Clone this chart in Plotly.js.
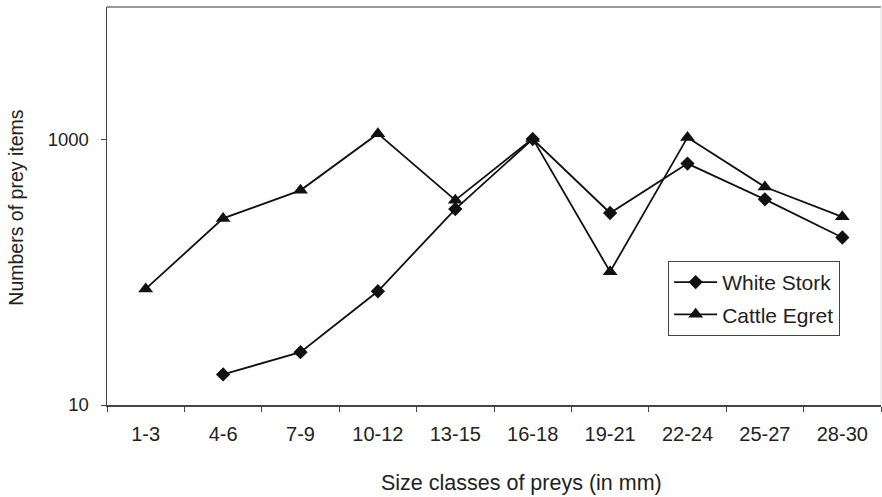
<!DOCTYPE html>
<html>
<head>
<meta charset="utf-8">
<script src="https://cdn.plot.ly/plotly-3.0.1.min.js"></script>
<style>html,body{margin:0;padding:0;background:#fff;}#chart{width:882px;height:497px;}</style>
</head>
<body>
<div id="chart"></div>
<script>
var categories = ["1-3","4-6","7-9","10-12","13-15","16-18","19-21","22-24","25-27","28-30"];
var whiteStork = [null, 17, 25, 72, 300, 1010, 280, 660, 355, 183];
var cattleEgret = [75, 255, 415, 1110, 350, 1020, 101, 1040, 440, 262];
var yTickVals = [10, 1000];
var yTickText = ["10", "1000"];
var seriesNames = ["White Stork", "Cattle Egret"];

var font = "Liberation Sans, Arial, sans-serif";
var traces = [
  {x: categories, y: whiteStork, name: seriesNames[0], type: "scatter", mode: "lines+markers",
   legendgroup: "a", connectgaps: false,
   line: {color: "#111", width: 1.8}, marker: {symbol: "diamond", size: 11, color: "#111"}},
  {x: categories, y: cattleEgret, name: seriesNames[1], type: "scatter", mode: "lines+markers",
   legendgroup: "b",
   line: {color: "#111", width: 1.8}, marker: {symbol: "triangle-up", size: 13, color: "#111"}}
];
var layout = {
  width: 882, height: 497,
  margin: {l: 107, r: 1, t: 7, b: 92},
  paper_bgcolor: "#fff", plot_bgcolor: "#fff",
  font: {family: font, size: 18, color: "#222"},
  showlegend: true,
  legend: {x: 0.725, y: 0.362, xanchor: "left", yanchor: "top",
    bgcolor: "#fff", bordercolor: "#444", borderwidth: 1,
    font: {family: font, size: 21, color: "#222"},
    itemwidth: 43, traceorder: "grouped", tracegroupgap: 2},
  xaxis: {type: "category", tickson: "boundaries", ticks: "outside", ticklen: 5, tickcolor: "#444",
    showline: true, linecolor: "#444", linewidth: 1.5, showgrid: false, zeroline: false,
    tickfont: {family: font, size: 20, color: "#222"}, ticklabelstandoff: 10,
    range: [-0.5, 9.5], fixedrange: true},
  yaxis: {type: "log", range: [1, 4], tickvals: yTickVals, ticktext: yTickText,
    ticks: "outside", ticklen: 5, tickcolor: "#444",
    showline: true, linecolor: "#444", linewidth: 1.5, showgrid: false, zeroline: false,
    tickfont: {family: font, size: 18.5, color: "#222"}, ticklabelstandoff: 8},
  shapes: [
    {type: "line", xref: "paper", yref: "paper", x0: 0, x1: 1, y0: 1, y1: 1, line: {color: "#999", width: 2}},
    {type: "line", xref: "paper", yref: "paper", x0: 1, x1: 1, y0: 0, y1: 1, line: {color: "#ddd", width: 1}}
  ],
  annotations: [
    {text: "Size classes of preys (in mm)", xref: "paper", yref: "paper", x: 0.536, y: -0.195,
     xanchor: "center", yanchor: "middle", showarrow: false, font: {family: font, size: 21.5, color: "#222"}},
    {text: "Numbers of prey items", xref: "paper", yref: "paper", x: -0.118, y: 0.495, textangle: -90,
     xanchor: "center", yanchor: "middle", showarrow: false, font: {family: font, size: 19.5, color: "#222"}}
  ]
};
Plotly.newPlot("chart", traces, layout, {displayModeBar: false, staticPlot: true});
</script>
</body>
</html>
